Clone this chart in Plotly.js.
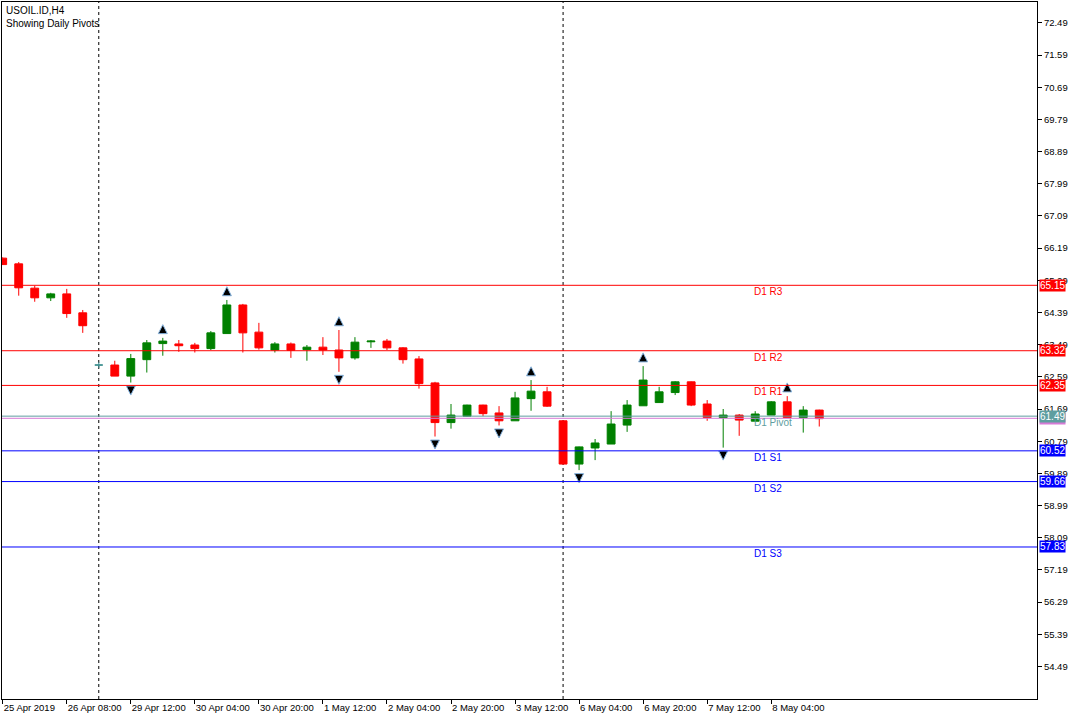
<!DOCTYPE html>
<html>
<head>
<meta charset="utf-8">
<script src="https://cdn.plot.ly/plotly-3.0.1.min.js"></script>
<style>
  html, body { margin: 0; padding: 0; background: #fff; }
  #chart { width: 1080px; height: 720px; }
</style>
</head>
<body>
<div id="chart"></div>
<script>
// ---- data (H4 bars, index = bar number) ----
const barOpen  = [65.91,65.75,65.07,64.80,64.91,64.38,62.92,62.92,62.61,63.07,63.52,63.51,63.48,63.38,63.80,64.60,63.84,63.34,63.51,63.35,63.42,63.34,63.12,63.57,63.59,63.40,63.09,62.42,61.31,61.49,61.80,61.58,61.36,61.98,62.17,61.36,60.15,60.60,60.71,61.24,61.78,61.87,62.15,62.45,61.83,61.45,61.52,61.35,61.52,61.89,61.45,61.66];
const barHigh  = [65.93,65.80,65.14,64.94,65.05,64.46,63.00,63.04,63.23,63.62,63.68,63.62,63.54,63.87,64.74,64.63,64.10,63.56,63.55,63.48,63.70,63.90,63.70,63.62,63.65,63.42,63.17,62.45,61.83,61.81,61.81,61.77,62.17,62.50,62.31,61.37,60.64,60.85,61.63,61.94,62.89,62.31,62.47,62.46,61.94,61.69,61.55,61.63,61.91,62.05,61.77,61.67];
const barLow   = [65.72,64.86,64.69,64.71,64.24,63.82,62.84,62.61,62.43,62.71,63.18,63.29,63.27,63.34,63.80,63.27,63.35,63.27,63.12,63.04,63.20,62.73,63.07,63.40,63.34,62.96,62.26,60.92,61.14,61.48,61.49,61.23,61.36,61.64,61.75,60.14,59.98,60.26,60.71,61.05,61.78,61.87,62.08,61.77,61.36,60.61,60.94,61.35,61.52,61.45,61.03,61.20];
const barClose = [65.73,65.08,64.80,64.91,64.36,64.02,62.92,62.61,63.10,63.54,63.59,63.46,63.38,63.82,64.60,63.82,63.40,63.51,63.33,63.42,63.34,63.12,63.56,63.59,63.40,63.07,62.40,61.31,61.52,61.80,61.56,61.36,62.00,62.19,61.77,60.15,60.63,60.74,61.27,61.80,62.50,62.17,62.45,61.80,61.45,61.52,61.38,61.55,61.89,61.45,61.66,61.42];

const xTickIdx  = [0,4,8,12,16,20,24,28,32,36,40,44,48];
const xTickText = ['25 Apr 2019','26 Apr 08:00','29 Apr 12:00','30 Apr 04:00','30 Apr 20:00','1 May 12:00','2 May 04:00','2 May 20:00','3 May 12:00','6 May 04:00','6 May 20:00','7 May 12:00','8 May 04:00'];
const yTicks = [72.49,71.59,70.69,69.79,68.89,67.99,67.09,66.19,65.29,64.39,63.49,62.59,61.69,60.79,59.89,58.99,58.09,57.19,56.29,55.39,54.49];

const weekStartIdx = [6, 35];

const levelNames  = ['D1 R3','D1 R2','D1 R1','D1 Pivot','D1 S1','D1 S2','D1 S3'];
const levelValues = [65.15, 63.32, 62.35, 61.49, 60.52, 59.66, 57.83];
const bidPrice = 61.43;

const fractalUpIdx   = [10, 14, 21, 33, 40, 49];
const fractalDownIdx = [8, 21, 27, 31, 36, 45];

// ---- styles ----
const levelColors = ['#FF0000','#FF0000','#FF0000','#5F9EA0','#0000FF','#0000FF','#0000FF'];
const GREEN = '#008000', RED = '#FF0000', DOJI = '#3D8F8F';
const FONT = 'Liberation Sans, Arial, sans-serif';
const LABEL_BAR = 47;

const idx = barOpen.map((_, i) => i);
const normal = idx.filter(i => barOpen[i] !== barClose[i]);
const doji = idx.filter(i => barOpen[i] === barClose[i]);
const pick = (arr, list) => list.map(i => arr[i]);

const traces = [
  {
    type: 'candlestick',
    x: normal, open: pick(barOpen, normal), high: pick(barHigh, normal),
    low: pick(barLow, normal), close: pick(barClose, normal),
    increasing: {line: {color: GREEN, width: 1}, fillcolor: GREEN},
    decreasing: {line: {color: RED, width: 1}, fillcolor: RED},
    whiskerwidth: 0, hoverinfo: 'skip', showlegend: false
  },
  {
    type: 'candlestick',
    x: doji, open: pick(barOpen, doji), high: pick(barHigh, doji),
    low: pick(barLow, doji), close: pick(barClose, doji),
    increasing: {line: {color: DOJI, width: 1}, fillcolor: DOJI},
    decreasing: {line: {color: DOJI, width: 1}, fillcolor: DOJI},
    whiskerwidth: 0, hoverinfo: 'skip', showlegend: false
  },
  {
    type: 'scatter', mode: 'markers',
    x: fractalUpIdx, y: fractalUpIdx.map(i => barHigh[i] + 0.37),
    marker: {symbol: 'arrow-up', size: 9, color: '#000000', line: {color: '#87B5E0', width: 1}},
    hoverinfo: 'skip', showlegend: false, cliponaxis: false
  },
  {
    type: 'scatter', mode: 'markers',
    x: fractalDownIdx, y: fractalDownIdx.map(i => barLow[i] - 0.35),
    marker: {symbol: 'arrow-down', size: 9, color: '#000000', line: {color: '#87B5E0', width: 1}},
    hoverinfo: 'skip', showlegend: false, cliponaxis: false
  }
];

const shapes = [];
weekStartIdx.forEach(x => shapes.push({
  type: 'line', xref: 'x', yref: 'paper', x0: x, x1: x, y0: 0, y1: 1,
  line: {color: '#000000', width: 1, dash: 'dot'}, layer: 'below'
}));
shapes.push({type: 'line', xref: 'paper', yref: 'y', x0: 0, x1: 1, y0: bidPrice, y1: bidPrice,
  line: {color: '#D67AD6', width: 1}});
levelValues.forEach((v, k) => shapes.push({
  type: 'line', xref: 'paper', yref: 'y', x0: 0, x1: 1, y0: v, y1: v,
  line: {color: levelColors[k], width: 1}
}));

const annotations = [
  {xref: 'paper', yref: 'paper', x: 0, y: 1, xanchor: 'left', yanchor: 'top', xshift: 2, yshift: -1,
   text: 'USOIL.ID,H4<br>Showing Daily Pivots', align: 'left', showarrow: false,
   font: {family: FONT, size: 10, color: '#000'}}
];
// bid label (under pivot label)
annotations.push({xref: 'paper', yref: 'y', x: 1, y: bidPrice, xanchor: 'left', yanchor: 'middle', xshift: 2,
  text: bidPrice.toFixed(2), showarrow: false, bgcolor: '#D67AD6', borderpad: 0,
  font: {family: FONT, size: 10, color: '#FFFFFF'}});
levelValues.forEach((v, k) => {
  annotations.push({xref: 'x', yref: 'y', x: LABEL_BAR, y: v, xanchor: 'left', yanchor: 'top', yshift: 1, xshift: -3,
    text: levelNames[k], showarrow: false, font: {family: FONT, size: 10, color: levelColors[k]}});
  annotations.push({xref: 'paper', yref: 'y', x: 1, y: v, xanchor: 'left', yanchor: 'middle', xshift: 2,
    text: v.toFixed(2), showarrow: false, bgcolor: levelColors[k], borderpad: 0,
    font: {family: FONT, size: 10, color: '#FFFFFF'}});
});

const layout = {
  width: 1080, height: 720,
  margin: {l: 2, r: 43, t: 2, b: 21, pad: 0},
  paper_bgcolor: '#FFFFFF', plot_bgcolor: '#FFFFFF',
  showlegend: false,
  xaxis: {
    type: 'linear', range: [-0.044, 64.6], fixedrange: true,
    rangeslider: {visible: false},
    showgrid: false, zeroline: false,
    showline: true, linecolor: '#000', linewidth: 1, mirror: true,
    ticks: 'outside', ticklen: 4, tickcolor: '#000', tickwidth: 1,
    tickmode: 'array', tickvals: xTickIdx, ticktext: xTickText,
    ticklabelposition: 'outside right',
    tickfont: {family: FONT, size: 9.5, color: '#000'}
  },
  yaxis: {
    side: 'right', range: [53.578, 73.075], fixedrange: true,
    showgrid: false, zeroline: false,
    showline: true, linecolor: '#000', linewidth: 1, mirror: true,
    ticks: 'outside', ticklen: 4, tickcolor: '#000', tickwidth: 1,
    tickmode: 'array', tickvals: yTicks, tickformat: '.2f',
    tickfont: {family: FONT, size: 9.5, color: '#000'}
  },
  shapes: shapes,
  annotations: annotations
};

Plotly.newPlot('chart', traces, layout, {displayModeBar: false, staticPlot: true});
</script>
</body>
</html>
